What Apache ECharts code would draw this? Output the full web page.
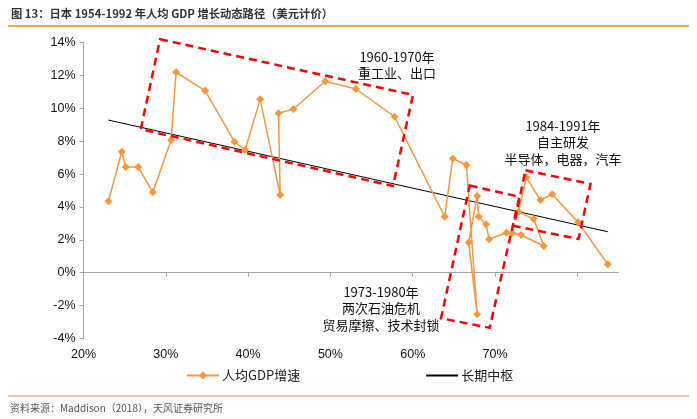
<!DOCTYPE html>
<html>
<head>
<meta charset="utf-8">
<script src="https://cdn.jsdelivr.net/npm/echarts@6/dist/echarts.min.js"></script>
<style>
html,body{margin:0;padding:0;background:#fff;}
#c{width:697px;height:419px;}
</style>
</head>
<body>
<div id="c"></div>
<script>
// Japan 1954-1992 path: x = per-capita GDP level (ratio), y = per-capita GDP growth (points in path order)
const levelX = [0.2302,0.2465,0.2513,0.2666,0.2842,0.3064,0.3125,0.3478,0.3834,0.3964,0.4146,0.4390,0.4369,0.4551,0.4937,0.5310,0.5780,0.6388,0.6487,0.6652,
                0.6782,0.6680,0.6782,0.6801,0.6891,0.6928,0.7138,0.7207,0.7317,0.7592,0.7470,0.7284,0.7381,0.7551,0.7694,0.8010,0.8370];
const growthY = [0.0434,0.0736,0.0643,0.0643,0.0489,0.0808,0.1220,0.1108,0.0797,0.0747,0.1055,0.0473,0.0970,0.0996,0.1165,0.1118,0.0949,0.0340,0.0695,0.0655,
                 -0.0254,0.0183,0.0467,0.0340,0.0294,0.0203,0.0243,0.0241,0.0229,0.0162,0.0326,0.0371,0.0580,0.0442,0.0477,0.0306,0.0051];
const trendX = [0.2302, 0.8370];
const trendY = [0.0929, 0.0249];
const xTicks = [0.2,0.3,0.4,0.5,0.6,0.7,0.8];
const seriesNames = ['人均GDP增速','长期中枢'];

// annotation boxes, corners in data coordinates
const boxes = [
  [[0.2930,0.1421],[0.6003,0.1082],[0.5760,0.0527],[0.2696,0.0873]],
  [[0.6692,0.0530],[0.7296,0.0462],[0.6935,-0.0336],[0.6344,-0.0278]],
  [[0.7369,0.0623],[0.8160,0.0540],[0.8014,0.0205],[0.7229,0.0284]]
];
const notes = [
  {x:397, y:57, lines:['1960-1970年','重工业、出口']},
  {x:563, y:126, lines:['1984-1991年','自主研发','半导体，电器，汽车']},
  {x:381, y:292, lines:['1973-1980年','两次石油危机','贸易摩擦、技术封锁']}
];

const chart = echarts.init(document.getElementById('c'));
const pct = v => Math.round(v*100) + '%';
const fontCN = '"Noto Sans CJK SC", "Noto Sans", sans-serif';
const fontNum = '"Liberation Sans", "Noto Sans", sans-serif';
const orange = '#F7963F';

const option = {
  animation:false,
  backgroundColor:'#fff',
  title:{
    text:'图 13：日本 1954-1992 年人均 GDP 增长动态路径（美元计价）',
    left:6, top:3,
    textStyle:{fontSize:11.3, fontWeight:'bold', color:'#333', fontFamily:fontCN}
  },
  grid:{left:83.5, right:78.5, top:42.7, bottom:80.7, containLabel:false},
  legend:{
    left:181, top:364, itemWidth:32, itemHeight:10, itemGap:125,
    textStyle:{fontSize:13, color:'#222', fontFamily:fontCN, padding:[0,0,0,-2]},
    data:[{name:seriesNames[0]}, {name:seriesNames[1], itemStyle:{opacity:0}}]
  },
  xAxis:[
    {type:'value', min:0.2, max:0.85, interval:0.1, position:'bottom',
     axisLine:{show:false,onZero:false}, axisTick:{show:false}, splitLine:{show:false},
     axisLabel:{formatter:pct, color:'#111', fontSize:12.5, fontFamily:fontNum, margin:10, showMaxLabel:false, customValues:xTicks}},
    {type:'value', min:0.2, max:0.85, interval:0.1, position:'bottom',
     axisLine:{show:true,onZero:true,lineStyle:{color:'#a6a6a6',width:1}},
     axisTick:{show:true,length:4,lineStyle:{color:'#a6a6a6'},customValues:[0.3,0.4,0.5,0.6,0.7,0.8]},
     axisLabel:{show:false}, splitLine:{show:false}}
  ],
  yAxis:{type:'value', min:-0.04, max:0.14, interval:0.02,
    axisLine:{show:true,lineStyle:{color:'#a6a6a6'}},
    axisTick:{show:true,length:4,lineStyle:{color:'#a6a6a6'}},
    splitLine:{show:false},
    axisLabel:{formatter:pct, color:'#111', fontSize:12.5, fontFamily:fontNum, margin:8}},
  series:[
    {name:seriesNames[0], type:'line', xAxisIndex:0,
     data: levelX.map((x,i)=>[x, growthY[i]]),
     symbol:'diamond', symbolSize:8, showAllSymbol:true,
     lineStyle:{color:orange, width:1.5}, itemStyle:{color:orange}, z:3},
    {name:seriesNames[1], type:'line', xAxisIndex:0,
     data: trendX.map((x,i)=>[x, trendY[i]]),
     symbol:'none', lineStyle:{color:'#000', width:1}, itemStyle:{color:'#000'}, z:2}
  ]
};
chart.setOption(option);

const g = [];
boxes.forEach(b=>{
  const pts = b.map(p=>chart.convertToPixel({xAxisIndex:0,yAxisIndex:0}, p));
  g.push({type:'polygon', shape:{points:pts}, z:10,
    style:{fill:'none', stroke:'#FF0000', lineWidth:2.5, lineDash:[8,5]}});
});
notes.forEach(n=>{
  n.lines.forEach((t,i)=>{
    g.push({type:'text', x:n.x, y:n.y + i*16.5, z:11,
      style:{text:t, fill:'#111', font:'13px ' + fontCN, align:'center', verticalAlign:'middle'}});
  });
});
g.push({type:'line', shape:{x1:8,y1:26,x2:689,y2:26}, style:{stroke:'#F08A24', lineWidth:1.5}});
g.push({type:'line', shape:{x1:8,y1:396,x2:689,y2:396}, style:{stroke:'#F08A24', lineWidth:1}});
g.push({type:'text', x:10, y:408, style:{text:'资料来源：Maddison（2018），天风证券研究所', fill:'#555', font:'10px ' + fontCN, verticalAlign:'middle'}});
chart.setOption({graphic:g});
</script>
</body>
</html>
